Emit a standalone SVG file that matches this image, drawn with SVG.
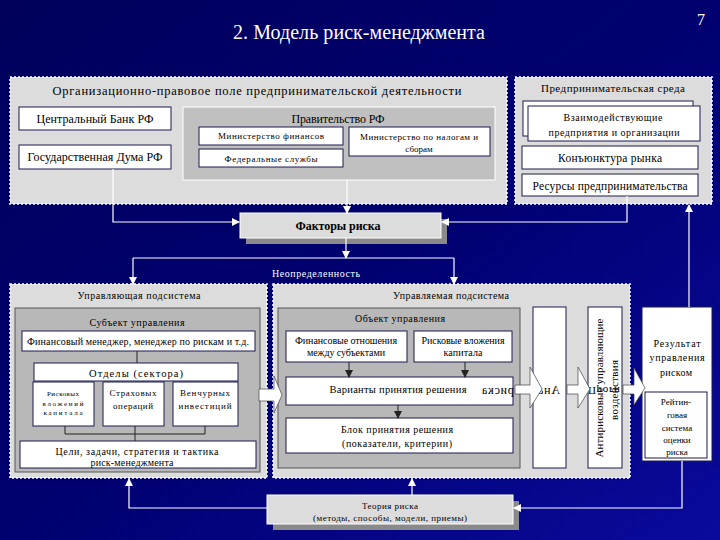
<svg xmlns="http://www.w3.org/2000/svg" width="720" height="540" viewBox="0 0 720 540">
<defs>
<linearGradient id="bg" x1="0" y1="0" x2="1" y2="1">
<stop offset="0" stop-color="#00005c"/>
<stop offset="0.5" stop-color="#000070"/>
<stop offset="1" stop-color="#0a0a9c"/>
</linearGradient>
<marker id="aw" markerUnits="userSpaceOnUse" markerWidth="8" markerHeight="8" refX="7" refY="4" orient="auto">
<path d="M0,0 L8,4 L0,8 z" fill="#ffffff"/>
</marker>
<marker id="ad" markerUnits="userSpaceOnUse" markerWidth="8" markerHeight="8" refX="7" refY="4" orient="auto">
<path d="M0,0 L8,4 L0,8 z" fill="#222222"/>
</marker>
<style>
text{font-family:"Liberation Serif","Times New Roman",serif;fill:#000;}
.panel{fill:#dcdcdc;stroke:#ffffff;stroke-width:1.5;stroke-dasharray:2 2;}
.inner{fill:#b8b8b8;stroke:#555555;stroke-width:1;}
.gov{fill:#c0c0c0;stroke:#ffffff;stroke-width:1;}
.wb{fill:#ffffff;stroke:#1a1a50;stroke-width:1;}
.gb{fill:#dcdcdc;stroke:#ffffff;stroke-width:1;}
.sh{fill:#8a8a8a;}
.c{text-anchor:middle;}
.f12{font-size:12px;}
.f11{font-size:11px;}
.f10{font-size:10px;}
.f9{font-size:9px;}
.f7{font-size:7px;}
.w{fill:#ffffff;}
.cw{fill:none;stroke:#ffffff;stroke-width:1.2;}
.cd{fill:none;stroke:#222222;stroke-width:1;}
.ba{fill:#ffffff;stroke:#444444;stroke-width:0.7;}
</style>
</defs>
<rect x="0" y="0" width="720" height="540" fill="url(#bg)"/>

<text x="359" y="39" class="c w" font-size="20" textLength="252">2. Модель риск-менеджмента</text>
<text x="701" y="25" class="c w" font-size="16">7</text>

<g id="org-field">
<rect x="10" y="77" width="497" height="127" class="panel"/>
<text x="257" y="95" class="c" font-size="12.5" textLength="409">Организационно-правовое поле предпринимательской деятельности</text>
</g>
<g id="central-bank">
<rect x="19" y="107" width="152" height="23" class="wb"/>
<text x="95" y="123" class="c f12" textLength="117">Центральный Банк РФ</text>
</g>
<g id="duma">
<rect x="19" y="145" width="152" height="24" class="wb"/>
<text x="95" y="161" class="c f12" textLength="135">Государственная Дума РФ</text>
</g>
<g id="government">
<rect x="183" y="107" width="312" height="73" class="gov"/>
<text x="338" y="123" class="c f12" textLength="93">Правительство РФ</text>
</g>
<g id="minfin">
<rect x="199" y="127" width="144" height="18" class="wb"/>
<text x="271" y="139" class="c f9" textLength="106">Министерство финансов</text>
</g>
<g id="fed-services">
<rect x="199" y="149" width="144" height="18" class="wb"/>
<text x="271" y="162" class="c f9" textLength="93">Федеральные службы</text>
</g>
<g id="mintax">
<rect x="349" y="127" width="141" height="29" class="wb"/>
<text x="419" y="140" class="c f9" textLength="118">Министерство по налогам и</text>
<text x="419" y="152" class="c f9">сборам</text>
</g>

<g id="business-env">
<rect x="515" y="77" width="197" height="127" class="panel"/>
<text x="613" y="92" class="c f11" textLength="144">Предпринимательская среда</text>
</g>
<g id="partners">
<rect x="523" y="101" width="170" height="35" class="wb"/>
<rect x="528" y="106" width="172" height="35" class="wb"/>
<text x="613" y="121" class="c f10" textLength="99">Взаимодействующие</text>
<text x="614" y="136" class="c f10" textLength="131">предприятия и организации</text>
</g>
<g id="market">
<rect x="522" y="146" width="176" height="23" class="wb"/>
<text x="610" y="162" class="c" font-size="11.5" textLength="104">Конъюнктура рынка</text>
</g>
<g id="resources">
<rect x="522" y="174" width="176" height="22" class="wb"/>
<text x="610" y="190" class="c" font-size="11.5" textLength="155">Ресурсы предпринимательства</text>
</g>

<g id="risk-factors">
<rect x="246" y="219" width="201" height="25" class="sh"/>
<rect x="240" y="213" width="201" height="25" class="gb"/>
<text x="338" y="230" class="c f12" font-weight="bold" textLength="85">Факторы риска</text>
</g>

<text x="316" y="277" class="c f10 w" textLength="88">Неопределенность</text>

<g id="managing-subsystem">
<rect x="10" y="284" width="257" height="194" class="panel"/>
<text x="139" y="299" class="c f10" textLength="123">Управляющая подсистема</text>
<rect x="15" y="308" width="245" height="164" class="inner"/>
<text x="137" y="326" class="c f10" textLength="95">Субъект управления</text>
</g>
<g id="fin-manager">
<rect x="22" y="331" width="233" height="20" class="wb"/>
<text x="138" y="345" class="c f10" textLength="222">Финансовый менеджер, менеджер по рискам и т.д.</text>
</g>
<g id="departments">
<rect x="34" y="363" width="204" height="18" class="wb"/>
<text x="136" y="377" class="c" font-size="10.5" textLength="94">Отделы (сектора)</text>
</g>
<g id="dept-risk">
<rect x="33" y="382" width="61" height="44" class="wb"/>
<text x="63" y="396" class="c f7" textLength="32">Рисковых</text>
<text x="63" y="406" class="c f7" textLength="41">вложений</text>
<text x="63" y="415" class="c f7" textLength="39">капитала</text>
</g>
<g id="dept-insurance">
<rect x="103" y="382" width="61" height="44" class="wb"/>
<text x="133" y="396" class="c f9" textLength="47">Страховых</text>
<text x="133" y="409" class="c f9" textLength="40">операций</text>
</g>
<g id="dept-venture">
<rect x="173" y="382" width="65" height="44" class="wb"/>
<text x="205" y="396" class="c f9" textLength="50">Венчурных</text>
<text x="205" y="409" class="c f9" textLength="53">инвестиций</text>
</g>
<g id="goals">
<rect x="20" y="441" width="236" height="27" class="wb"/>
<text x="137" y="455" class="c f10" textLength="163">Цели, задачи, стратегия и тактика</text>
<text x="132" y="466" class="c f10" textLength="83">риск-менеджмента</text>
</g>

<g id="managed-subsystem">
<rect x="273" y="284" width="357" height="194" class="panel"/>
<text x="451" y="299" class="c f10" textLength="116">Управляемая подсистема</text>
<rect x="278" y="308" width="242" height="160" class="inner"/>
<text x="400" y="322" class="c f10" textLength="90">Объект управления</text>
</g>
<g id="fin-relations">
<rect x="286" y="331" width="121" height="31" class="wb"/>
<text x="346" y="344" class="c f10" textLength="102">Финансовые отношения</text>
<text x="346" y="356" class="c f10" textLength="78">между субъектами</text>
</g>
<g id="risk-investments">
<rect x="414" y="331" width="98" height="31" class="wb"/>
<text x="463" y="344" class="c f10" textLength="83">Рисковые вложения</text>
<text x="463" y="356" class="c f10" textLength="39">капитала</text>
</g>
<g id="decision-options">
<rect x="286" y="377" width="227" height="28" class="wb"/>
<text x="398" y="393" class="c" font-size="10.5" textLength="137">Варианты принятия решения</text>
</g>
<g id="decision-block">
<rect x="286" y="418" width="227" height="35" class="wb"/>
<text x="397" y="433" class="c f10" textLength="112">Блок принятия решения</text>
<text x="397" y="447" class="c f10" textLength="110">(показатели, критерии)</text>
</g>
<g id="risk-analysis">
<rect x="533" y="307" width="33" height="161" class="wb"/>
</g>
<g id="anti-risk">
<rect x="588" y="307" width="34" height="161" class="wb"/>
<text transform="translate(603,388) rotate(-90)" class="c f11" textLength="139">Антирисковые управляющие</text>
<text transform="translate(618,390) rotate(-90)" class="c f11" textLength="60">воздействия</text>
</g>
<text transform="translate(560,394) scale(-1,1)" font-size="12" textLength="78">Анализ риска</text>
<text transform="translate(588,387) scale(1,-1)" font-size="11" textLength="32">Прогн</text>

<g id="result">
<rect x="642" y="307" width="70" height="154" class="wb"/>
<text x="677" y="347" class="c f10" textLength="47">Результат</text>
<text x="677" y="361" class="c f10" textLength="55">управления</text>
<text x="676" y="376" class="c f10" textLength="32">риском</text>
<rect x="645" y="392" width="62" height="66" class="wb"/>
<text x="676" y="405" class="c f9">Рейтин-</text>
<text x="677" y="418" class="c f9">говая</text>
<text x="677" y="431" class="c f9">система</text>
<text x="677" y="443" class="c f9">оценки</text>
<text x="677" y="455" class="c f9">риска</text>
</g>

<g id="risk-theory">
<rect x="273" y="501" width="246" height="29" class="sh"/>
<rect x="267" y="495" width="246" height="29" class="gb"/>
<text x="390" y="509" class="c f9" textLength="56">Теория риска</text>
<text x="390" y="521" class="c f9" textLength="154">(методы, способы, модели, приемы)</text>
</g>

<g id="connectors">
<path d="M113,169 V222 H239" class="cw" marker-end="url(#aw)"/>
<path d="M347,180 V213" class="cw" marker-end="url(#aw)"/>
<path d="M627,196 V222 H442" class="cw" marker-end="url(#aw)"/>
<path d="M346,238 V258" class="cw" marker-end="url(#aw)"/>
<path d="M133,258 H454" class="cw"/>
<path d="M133,258 V284" class="cw" marker-end="url(#aw)"/>
<path d="M454,258 V284" class="cw" marker-end="url(#aw)"/>
<path d="M689,307 V205" class="cw" marker-end="url(#aw)"/>
<path d="M682,461 V508 H514" class="cw" marker-end="url(#aw)"/>
<path d="M267,508 H129 V479" class="cw" marker-end="url(#aw)"/>
<path d="M412,495 V479" class="cw" marker-end="url(#aw)"/>
<path d="M137,351 V363" class="cd"/>
<path d="M65,426 V434 H205 V426 M135,426 V441" class="cd"/>
<path d="M349,362 V377" class="cd" marker-end="url(#ad)"/>
<path d="M465,362 V377" class="cd" marker-end="url(#ad)"/>
<path d="M398,405 V418" class="cd" marker-end="url(#ad)"/>
<polygon points="259,389 274,389 274,376 282,395 274,413 274,401 259,401" class="ba"/>
<polygon points="515,385 530,385 530,367 542,389 530,408 530,394 515,394" class="ba"/>
<polygon points="567,385 578,385 578,367 590,389 578,408 578,394 567,394" class="ba"/>
<polygon points="623,385 634,385 634,368 645,388 634,405 634,394 623,394" class="ba"/>
</g>
</svg>
